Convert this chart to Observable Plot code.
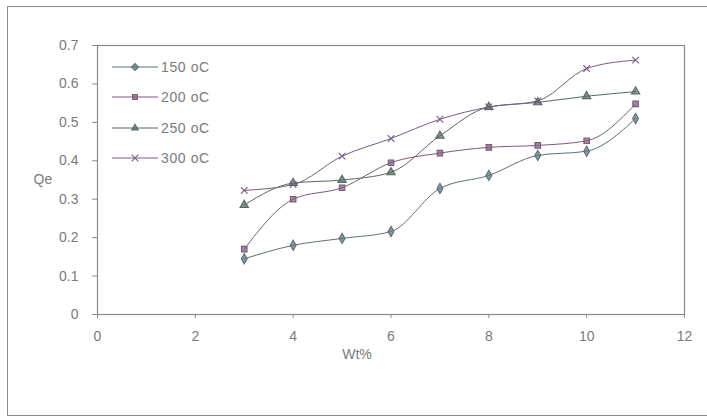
<!DOCTYPE html>
<html>
<head>
<meta charset="utf-8">
<script src="https://cdn.jsdelivr.net/npm/d3@7"></script>
<script src="https://cdn.jsdelivr.net/npm/@observablehq/plot@0.6"></script>
<style>
  html, body { margin: 0; padding: 0; background: #fff; }
  #wrap { position: relative; width: 707px; height: 420px; font-family: "Liberation Sans", Arial, sans-serif; }
  #border { position: absolute; left: 7px; top: 6px; width: 700px; height: 410px; border: 1.5px solid #8a8a8a; border-right: none; box-sizing: border-box; }
  #legend { position: absolute; left: 112px; top: 52px; font-size: 14px; color: #7a7a7a; letter-spacing: 0.6px; }
  .row { display: flex; align-items: center; height: 30.3px; }
  .row svg { margin-right: 3px; }
</style>
</head>
<body>
<div id="wrap"><div id="chart"></div><div id="border"></div><div id="legend"></div></div>
<script>
const wt = [3, 4, 5, 6, 7, 8, 9, 10, 11];
const series = ["150 oC", "200 oC", "250 oC", "300 oC"];
const q150 = [0.145, 0.180, 0.198, 0.216, 0.328, 0.362, 0.414, 0.425, 0.510];
const q200 = [0.170, 0.300, 0.330, 0.395, 0.420, 0.435, 0.440, 0.452, 0.548];
const q250 = [0.285, 0.342, 0.350, 0.370, 0.465, 0.540, 0.552, 0.568, 0.580];
const q300 = [0.323, 0.338, 0.412, 0.458, 0.508, 0.540, 0.556, 0.640, 0.662];
const xTicks = [0, 2, 4, 6, 8, 10, 12];
const yTicks = [0, 0.1, 0.2, 0.3, 0.4, 0.5, 0.6, 0.7];
const colors = ["#5a7078", "#7a5a78", "#55695e", "#765a88"];
const symbols = ["diamond", "square", "triangle", "times"];

const values = [q150, q200, q250, q300];
const data = [];
series.forEach((s, i) => wt.forEach((w, j) => data.push({series: s, wt: w, qe: values[i][j]})));

const chart = Plot.plot({
  width: 707,
  height: 420,
  marginLeft: 97,
  marginRight: 23,
  marginTop: 45,
  marginBottom: 106,
  style: {fontFamily: "Liberation Sans, Arial, sans-serif", fontSize: "14px", color: "#7a7a7a", background: "transparent"},
  x: {domain: [0, 12], label: null},
  y: {domain: [0, 0.7], label: null},
  color: {domain: series, range: colors},
  symbol: {domain: series, range: symbols},
  marks: [
    Plot.frame({stroke: "#8a8a8a", strokeWidth: 1.2}),
    Plot.axisX({ticks: xTicks, tickSize: 4, tickPadding: 13, stroke: "#8a8a8a", tickFormat: d => String(d), label: null}),
    Plot.axisY({ticks: yTicks, tickSize: 5, tickPadding: 14, stroke: "#8a8a8a", tickFormat: d => String(+d.toFixed(1)), label: null}),
    Plot.line(data, {x: "wt", y: "qe", z: "series", stroke: "series", strokeWidth: 1, curve: "monotone-x"}),
    Plot.dot(data, {x: "wt", y: "qe", symbol: "series", stroke: "series", fill: "series", fillOpacity: 0.7, r: 3.1, strokeWidth: 1.1}),
    Plot.text(["Wt%"], {frameAnchor: "bottom", dy: 44, dx: -34, text: d => d, fontSize: 14, fill: "#7a7a7a"}),
    Plot.text(["Qe"], {frameAnchor: "left", dx: -64, dy: 0, text: d => d, fontSize: 14, fill: "#7a7a7a"})
  ]
});
document.getElementById("chart").appendChild(chart);

const legend = d3.select("#legend");
const legendSymbols = [d3.symbolDiamond2, d3.symbolSquare2, d3.symbolTriangle2, d3.symbolTimes];
series.forEach((s, i) => {
  const row = legend.append("div").attr("class", "row");
  const svg = row.append("svg").attr("width", 46).attr("height", 12);
  svg.append("line").attr("x1", 0).attr("x2", 46).attr("y1", 6).attr("y2", 6).attr("stroke", colors[i]).attr("stroke-width", 1);
  svg.append("path").attr("transform", "translate(23,6)")
    .attr("d", d3.symbol(legendSymbols[i], 30)())
    .attr("stroke", colors[i]).attr("fill", colors[i]).attr("fill-opacity", 0.7).attr("stroke-width", 1.1);
  row.append("span").text(s);
});
</script>
</body>
</html>
